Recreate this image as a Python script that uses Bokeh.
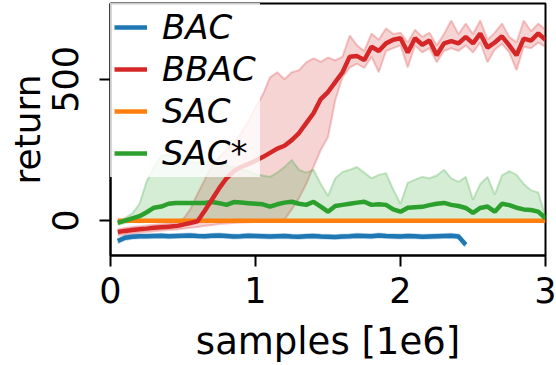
from bokeh.plotting import figure
from bokeh.models import Range1d, FixedTicker, Legend, LegendItem
from bokeh.embed import file_html
from bokeh.resources import INLINE

# ---------------- data ----------------
samples = [0.05, 0.10, 0.15, 0.20, 0.25, 0.30, 0.35, 0.40, 0.45, 0.50,
           0.55, 0.60, 0.65, 0.70, 0.75, 0.80, 0.85, 0.90, 0.95, 1.00,
           1.05, 1.10, 1.15, 1.20, 1.25, 1.30, 1.35, 1.40, 1.45, 1.50,
           1.55, 1.60, 1.65, 1.70, 1.75, 1.80, 1.85, 1.90, 1.95, 2.00,
           2.05, 2.10, 2.15, 2.20, 2.25, 2.30, 2.35, 2.40, 2.45, 2.50,
           2.55, 2.60, 2.65, 2.70, 2.75, 2.80, 2.85, 2.90, 2.95, 3.00]

bac_samples = [0.05, 0.10, 0.15, 0.20, 0.25, 0.30, 0.35, 0.40, 0.45, 0.50,
               0.55, 0.60, 0.65, 0.70, 0.75, 0.80, 0.85, 0.90, 0.95, 1.00,
               1.05, 1.10, 1.15, 1.20, 1.25, 1.30, 1.35, 1.40, 1.45, 1.50,
               1.55, 1.60, 1.65, 1.70, 1.75, 1.80, 1.85, 1.90, 1.95, 2.00,
               2.05, 2.10, 2.15, 2.20, 2.25, 2.30, 2.35, 2.40, 2.45]
bac_mean = [-72, -60, -57, -55, -55, -54, -53, -55, -54, -53,
            -52, -54, -55, -53, -52, -54, -56, -55, -53, -54,
            -55, -56, -55, -54, -56, -57, -55, -54, -56, -57,
            -58, -56, -55, -53, -54, -55, -52, -54, -55, -56,
            -54, -55, -57, -56, -55, -54, -53, -56, -85]
bac_upper = [-64, -52, -50, -48, -48, -47, -46, -48, -47, -46,
             -45, -47, -48, -46, -45, -47, -49, -48, -46, -47,
             -48, -49, -48, -47, -49, -50, -48, -47, -49, -50,
             -51, -49, -48, -46, -47, -48, -45, -47, -48, -49,
             -47, -48, -50, -49, -48, -47, -46, -49, -78]
bac_lower = [-80, -68, -64, -62, -62, -61, -60, -62, -61, -60,
             -59, -61, -62, -60, -59, -61, -63, -62, -60, -61,
             -62, -63, -62, -61, -63, -64, -62, -61, -63, -64,
             -65, -63, -62, -60, -61, -62, -59, -61, -62, -63,
             -61, -62, -64, -63, -62, -61, -60, -63, -92]

bbac_mean = [-40, -36, -33, -30, -28, -25, -23, -21, -19, -14,
             -8, -2, 35, 75, 115, 150, 175, 190, 200, 212,
             225, 240, 255, 265, 285, 310, 345, 380, 430, 455,
             490, 525, 580, 582, 568, 615, 600, 627, 640, 645,
             595, 645, 622, 637, 585, 627, 635, 627, 650, 627,
             662, 612, 630, 652, 620, 585, 644, 637, 662, 640]
bbac_upper = [-30, -26, -22, -20, -17, -14, -12, -9, -6, 5,
              40, 95, 145, 195, 225, 250, 275, 310, 350, 400,
              445, 507, 525, 500, 525, 532, 560, 574, 562, 577,
              567, 580, 655, 620, 600, 662, 640, 680, 660, 665,
              630, 675, 650, 665, 620, 660, 708, 660, 697, 660,
              708, 640, 665, 697, 650, 630, 708, 670, 697, 675]
bbac_lower = [-52, -48, -45, -42, -40, -37, -35, -33, -31, -28,
              -25, -22, -18, -15, -12, -10, -8, -6, -5, -4,
              -3, -2, -1, 4, 40, 80, 130, 190, 250, 296,
              426, 507, 542, 555, 540, 580, 525, 600, 610, 620,
              542, 620, 595, 610, 560, 600, 610, 600, 620, 595,
              630, 560, 605, 625, 595, 532, 615, 610, 630, 615]

sac_mean = [0, 0, 0, 0, 0, 0, 0, 0, 0, 0,
            0, 0, 0, 0, 0, 0, 0, 0, 0, 0,
            0, 0, 0, 0, 0, 0, 0, 0, 0, 0,
            0, 0, 0, 0, 0, 0, 0, 0, 0, 0,
            0, 0, 0, 0, 0, 0, 0, 0, 0, 0,
            0, 0, 0, 0, 0, 0, 0, 0, 0, 0]

sacs_mean = [-8, 0, 8, 16, 30, 46, 50, 60, 63, 63,
             63, 63, 63, 66, 62, 56, 66, 64, 62, 60,
             58, 50, 58, 64, 67, 60, 56, 67, 50, 32,
             52, 56, 60, 64, 67, 56, 58, 56, 40, 32,
             46, 48, 49, 55, 60, 63, 56, 52, 45, 28,
             45, 50, 32, 60, 55, 46, 40, 38, 32, 8]
sacs_upper = [-2, 10, 25, 60, 140, 190, 230, 235, 225, 215,
              210, 205, 210, 205, 200, 195, 190, 185, 175, 165,
              160, 155, 170, 190, 215, 180, 170, 180, 130, 88,
              150, 172, 180, 190, 170, 150, 162, 168, 110, 60,
              134, 145, 155, 150, 160, 180, 150, 137, 155, 74,
              130, 155, 92, 160, 175, 162, 130, 108, 100, 14]
sacs_lower = [-14, -8, -4, -3, -3, -2, -2, -3, -2, -2,
              -3, -2, -2, -3, -2, -2, -3, -2, -2, -3,
              -2, -2, -3, -2, -2, -3, -2, -2, -3, -2,
              -2, -3, -2, -2, -3, -2, -2, -3, -2, -2,
              -3, -2, -2, -3, -2, -2, -3, -2, -2, -3,
              -2, -2, -3, -2, -2, -3, -2, -2, -3, -4]

x_ticks = [0, 1, 2, 3]
y_ticks = [0, 500]
x_title = "samples [1e6]"
y_title = "return"

BLUE, ORANGE, GREEN, RED = "#1f77b4", "#ff7f0e", "#2ca02c", "#d62728"

# ---------------- figure ----------------
p = figure(width=556, height=365, output_backend="svg", toolbar_location=None,
           x_range=Range1d(0, 3), y_range=Range1d(-123, 768),
           min_border_left=110, min_border_right=11, min_border_top=3,
           min_border_bottom=109)
p.grid.visible = False
p.outline_line_color = "black"
p.outline_line_width = 2
p.outline_line_alpha = 1
p.background_fill_color = "white"

for ax in (p.xaxis[0], p.yaxis[0]):
    ax.axis_line_width = 2
    ax.major_tick_line_width = 2
    ax.major_tick_out = 11
    ax.major_tick_in = 0
    ax.minor_tick_out = 0
    ax.minor_tick_in = 0
    ax.major_label_text_font = "DejaVu Sans"
    ax.major_label_text_font_size = "35px"
    ax.major_label_text_color = "black"
    ax.axis_label_text_font = "DejaVu Sans"
    ax.axis_label_text_font_size = "37px"
    ax.axis_label_text_font_style = "normal"
    ax.axis_label_text_color = "black"

p.xaxis.ticker = FixedTicker(ticks=x_ticks)
p.yaxis.ticker = FixedTicker(ticks=y_ticks)
p.xaxis.axis_label = x_title
p.yaxis.axis_label = y_title
p.yaxis.major_label_orientation = "vertical"
p.xaxis.major_label_standoff = 10
p.xaxis.axis_label_standoff = 14
p.yaxis.major_label_standoff = 21
p.yaxis.axis_label_standoff = 2
p.yaxis.axis_label_text_font_size = "36px"

# bands
def band(xs, lo, hi, color):
    p.varea(x=xs, y1=lo, y2=hi, fill_color=color, fill_alpha=0.2)
    p.line(xs, hi, line_color=color, line_alpha=0.25, line_width=2)
    p.line(xs, lo, line_color=color, line_alpha=0.25, line_width=2)

band(bac_samples, bac_lower, bac_upper, BLUE)
band(samples, bbac_lower, bbac_upper, RED)
band(samples, sacs_lower, sacs_upper, GREEN)

r_bac = p.line(bac_samples, bac_mean, line_color=BLUE, line_width=4.5)
r_sac = p.line(samples, sac_mean, line_color=ORANGE, line_width=4.5)
r_sacs = p.line(samples, sacs_mean, line_color=GREEN, line_width=4.5)
r_bbac = p.line(samples, bbac_mean, line_color=RED, line_width=4.5)

legend = Legend(items=[LegendItem(label="BAC", renderers=[r_bac]),
                       LegendItem(label="BBAC", renderers=[r_bbac]),
                       LegendItem(label="SAC", renderers=[r_sac]),
                       LegendItem(label="SAC*", renderers=[r_sacs])],
                location="top_left", margin=0, padding=4, spacing=2,
                glyph_width=33, glyph_height=30, label_standoff=15,
                label_text_font="DejaVu Sans", label_text_font_style="italic",
                label_text_font_size="34px", label_text_color="black",
                background_fill_color="white", background_fill_alpha=0.8,
                border_line_alpha=0)
p.add_layout(legend)

open("out.html", "w").write(file_html(p, INLINE))
